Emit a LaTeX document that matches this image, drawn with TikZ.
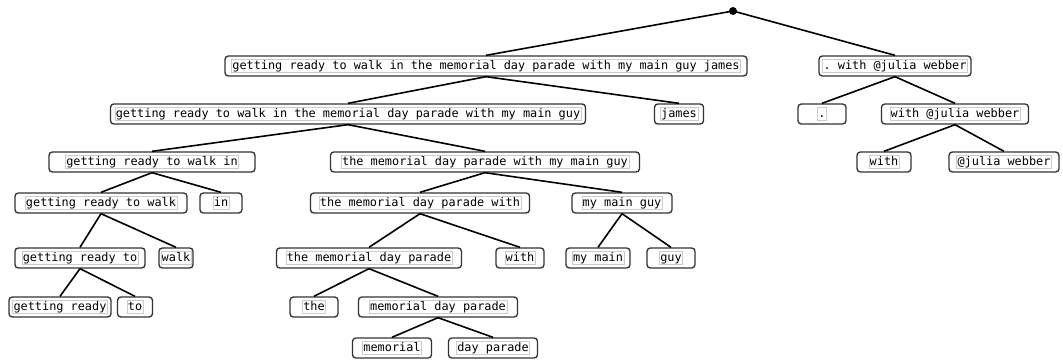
\documentclass[tikz,border=0pt]{standalone}
\usepackage{fontspec}
\setmonofont{DejaVu Sans Mono}
\newcommand{\tokbox}[1]{{\setlength{\fboxsep}{0.5pt}\setlength{\fboxrule}{0.4pt}\fcolorbox{black!20}{white}{\vphantom{Agy}#1}}}

\begin{document}
\begin{tikzpicture} [
    x=0.75pt,y=-0.75pt,
    wd/.style={minimum width=#1*0.75pt},
  ]

  \tikzstyle{span} = [
    rectangle,
    rounded corners=2.5pt,
    draw=black!80,
    line width=1pt,
    fill=white,
    inner sep=0pt,
    minimum height=15pt,
    font=\ttfamily\fontsize{8.9}{10}\selectfont,
  ]
  \tikzstyle{rootdot} = [
    circle,
    fill=black,
    inner sep=0pt,
    minimum size=6pt,
  ]
  \tikzstyle{branch} = [
    line width=1.2pt,
    black,
  ]

  \useasboundingbox (0,0) rectangle (1063,360);

  \node[rootdot]             (root) at (733,11) {};

  \node[span,wd=522] (a1) at (486,66)  {\tokbox{getting ready to walk in the memorial day parade with my main guy james}};
  \node[span,wd=152] (a2) at (895,66)  {\tokbox{. with @julia webber}};

  \node[span,wd=475] (b1) at (348,114) {\tokbox{getting ready to walk in the memorial day parade with my main guy}};
  \node[span,wd=49]  (b2) at (679,114) {\tokbox{james}};
  \node[span,wd=48]  (b3) at (822,114) {\tokbox{.}};
  \node[span,wd=147] (b4) at (955,114) {\tokbox{with @julia webber}};

  \node[span,wd=206] (c1) at (152,162) {\tokbox{getting ready to walk in}};
  \node[span,wd=309] (c2) at (485,162) {\tokbox{the memorial day parade with my main guy}};
  \node[span,wd=54]  (c3) at (884,162) {\tokbox{with}};
  \node[span,wd=110] (c4) at (1004,162) {\tokbox{@julia webber}};

  \node[span,wd=172] (d1) at (101,203) {\tokbox{getting ready to walk}};
  \node[span,wd=42]  (d2) at (221,203) {\tokbox{in}};
  \node[span,wd=219] (d3) at (420,203) {\tokbox{the memorial day parade with}};
  \node[span,wd=100] (d4) at (622,203) {\tokbox{my main guy}};

  \node[span,wd=130] (e1) at (80,258)  {\tokbox{getting ready to}};
  \node[span,wd=34]  (e2) at (176,258) {\tokbox{walk}};
  \node[span,wd=185] (e3) at (369,258) {\tokbox{the memorial day parade}};
  \node[span,wd=48]  (e4) at (520,258) {\tokbox{with}};
  \node[span,wd=64]  (e5) at (598,258) {\tokbox{my main}};
  \node[span,wd=48]  (e6) at (671,258) {\tokbox{guy}};

  \node[span,wd=102] (f1) at (60,307)  {\tokbox{getting ready}};
  \node[span,wd=35]  (f2) at (135,307) {\tokbox{to}};
  \node[span,wd=48]  (f3) at (314,307) {\tokbox{the}};
  \node[span,wd=159] (f4) at (438,307) {\tokbox{memorial day parade}};

  \node[span,wd=79]  (g1) at (392,348) {\tokbox{memorial}};
  \node[span,wd=89]  (g2) at (493,348) {\tokbox{day parade}};

  \draw[branch] (root.center) -- (a1.north);
  \draw[branch] (root.center) -- (a2.north);
  \draw[branch] (a1.south) -- (b1.north);
  \draw[branch] (a1.south) -- (b2.north);
  \draw[branch] (a2.south) -- (b3.north);
  \draw[branch] (a2.south) -- (b4.north);
  \draw[branch] (b1.south) -- (c1.north);
  \draw[branch] (b1.south) -- (c2.north);
  \draw[branch] (b4.south) -- (c3.north);
  \draw[branch] (b4.south) -- (c4.north);
  \draw[branch] (c1.south) -- (d1.north);
  \draw[branch] (c1.south) -- (d2.north);
  \draw[branch] (c2.south) -- (d3.north);
  \draw[branch] (c2.south) -- (d4.north);
  \draw[branch] (d1.south) -- (e1.north);
  \draw[branch] (d1.south) -- (e2.north);
  \draw[branch] (d3.south) -- (e3.north);
  \draw[branch] (d3.south) -- (e4.north);
  \draw[branch] (d4.south) -- (e5.north);
  \draw[branch] (d4.south) -- (e6.north);
  \draw[branch] (e1.south) -- (f1.north);
  \draw[branch] (e1.south) -- (f2.north);
  \draw[branch] (e3.south) -- (f3.north);
  \draw[branch] (e3.south) -- (f4.north);
  \draw[branch] (f4.south) -- (g1.north);
  \draw[branch] (f4.south) -- (g2.north);

\end{tikzpicture}
\end{document}
